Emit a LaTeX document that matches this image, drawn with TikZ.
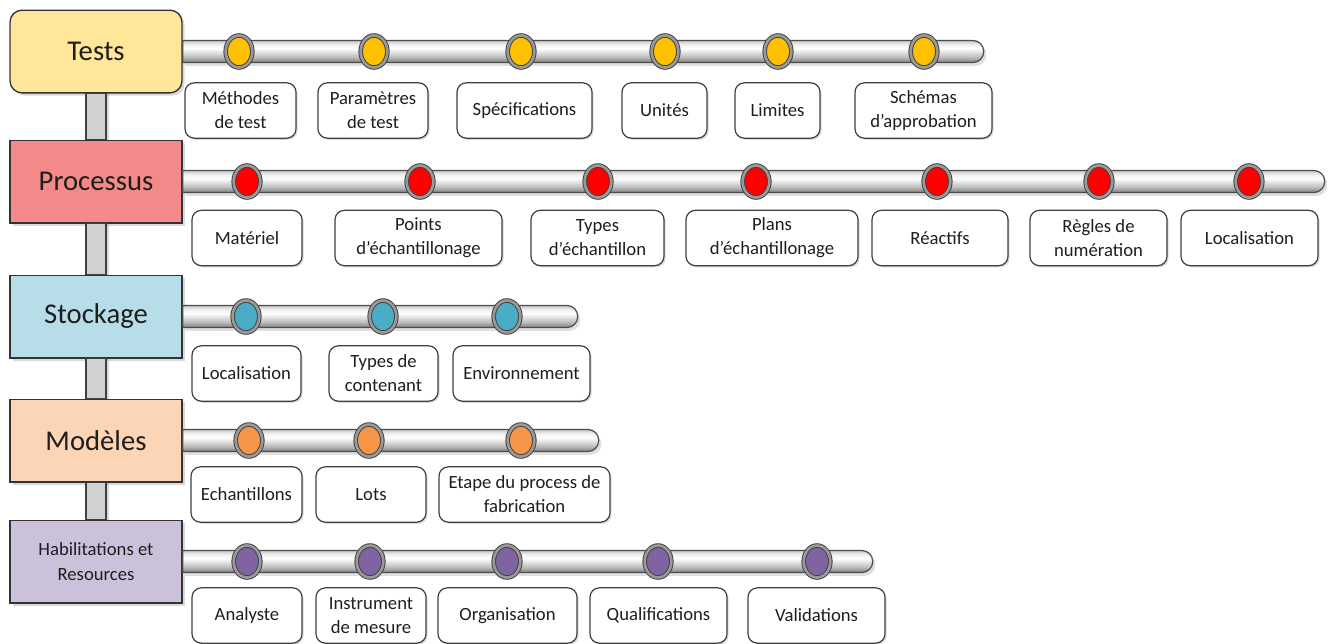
\documentclass[tikz,border=0pt]{standalone}
\usepackage{fontspec}
\setmainfont{Carlito}
\usetikzlibrary{shapes.geometric,shadows,calc}
\definecolor{testsbg}{HTML}{FFE699}
\definecolor{testsdot}{HTML}{FFC000}
\definecolor{procbg}{HTML}{F4898A}
\definecolor{procdot}{HTML}{FF0000}
\definecolor{stockbg}{HTML}{B7DEE8}
\definecolor{stockdot}{HTML}{4BACC6}
\definecolor{modbg}{HTML}{FBD5B5}
\definecolor{moddot}{HTML}{F79646}
\definecolor{habbg}{HTML}{CCC1DA}
\definecolor{habdot}{HTML}{8064A2}
\definecolor{ink}{HTML}{1E1E1E}
\pgfdeclareverticalshading{tubeshade}{100bp}{color(0bp)=(black!50); color(25bp)=(black!50); color(38bp)=(black!25); color(57bp)=(white); color(66bp)=(black!6); color(75bp)=(black!22); color(100bp)=(black!22)}
\begin{document}
\begin{tikzpicture}[x=.75pt,y=-.75pt,
  cat/.style={draw=black!80,line width=1pt,minimum width=129pt,minimum height=62pt,inner sep=0pt,align=center,text=ink,font=\fontsize{21.5}{26}\selectfont,drop shadow={shadow xshift=2pt,shadow yshift=-2pt,opacity=.3}},
  lab/.style={draw=black!75,line width=.9pt,fill=white,rounded corners=7pt,minimum height=41.5pt,inner sep=0pt,align=center,text=ink,font=\fontsize{14}{18}\selectfont,drop shadow={shadow xshift=1.2pt,shadow yshift=-1.2pt,opacity=.3}},
  tube/.style={draw=black!70,line width=.9pt,shading=tubeshade,drop shadow={shadow xshift=2pt,shadow yshift=-2.5pt,opacity=.25}},
  vbar/.style={draw=black!75,line width=.9pt,fill=black!18,drop shadow={shadow xshift=2.5pt,shadow yshift=0pt,opacity=.3}},
  dot/.style={ellipse,draw=black!75,line width=.7pt,double=black!40,double distance=2pt,fill=#1,minimum width=20pt,minimum height=24pt,inner sep=0pt}]
\useasboundingbox (0,0) rectangle (1335,643);

\node[cat,fill=testsbg,rounded corners=9pt] (tests) at (96,51.5) {Tests};
\node[cat,fill=procbg] (proc) at (96,181.5) {Processus};
\node[cat,fill=stockbg] (stock) at (96,316.5) {Stockage};
\node[cat,fill=modbg] (mod) at (96,440.5) {Modèles};
\node[cat,fill=habbg,font=\fontsize{14}{18.75}\selectfont] (hab) at (96,561.5) {Habilitations et\\Resources};

\foreach \a/\b in {tests/proc,proc/stock,stock/mod,mod/hab}
  \draw[vbar] ($(\a.south)+(-10,0)$) rectangle ($(\b.north)+(10,0)$);

\foreach \n/\e in {tests/983,proc/1324,stock/577,mod/598,hab/872}
  \shade[tube] ($(\n.east)+(0,-11)$) [rounded corners=8pt] -- ($(\n.east)+(\e-182,-11)$) -- ($(\n.east)+(\e-182,11)$) [sharp corners] -- ($(\n.east)+(0,11)$) -- cycle;

\foreach \x [count=\i] in {239,374,521,665,778,924}
  \node[dot=testsdot] (tdot\i) at (\x,51.5) {};
\foreach \a/\b/\t [count=\i] in {185/296/{Méthodes\\de test},318/428/{Paramètres\\de test},457/592/{Spécifications},622/707/{Unités},735/820/{Limites},855/992/{Schémas\\d’approbation}}
  \node[lab,minimum width={(\b-\a)*.75pt}] (tlab\i) at ({(\a+\b)/2},110.5) {\t};

\foreach \x [count=\i] in {247,420,598,756,937,1099,1249}
  \node[dot=procdot] (pdot\i) at (\x,181.5) {};
\foreach \a/\b/\t [count=\i] in {192/302/{Matériel},335/502/{Points\\d’échantillonage},531/664/{Types\\d’échantillon},686/858/{Plans\\d’échantillonage},872/1008/{Réactifs},1030/1167/{Règles de\\numération},1181/1318/{Localisation}}
  \node[lab,minimum width={(\b-\a)*.75pt}] (plab\i) at ({(\a+\b)/2},238) {\t};

\foreach \x [count=\i] in {246,383,507}
  \node[dot=stockdot] (sdot\i) at (\x,316.5) {};
\foreach \a/\b/\t [count=\i] in {192/301/{Localisation},329/438/{Types de\\contenant},453/590/{Environnement}}
  \node[lab,minimum width={(\b-\a)*.75pt}] (slab\i) at ({(\a+\b)/2},373.5) {\t};

\foreach \x [count=\i] in {249,369,521}
  \node[dot=moddot] (mdot\i) at (\x,440.5) {};
\foreach \a/\b/\t [count=\i] in {191/302/{Echantillons},316/426/{Lots},439/610/{Etape du process de\\fabrication}}
  \node[lab,minimum width={(\b-\a)*.75pt}] (mlab\i) at ({(\a+\b)/2},494.5) {\t};

\foreach \x [count=\i] in {247,370,507,658,817}
  \node[dot=habdot] (hdot\i) at (\x,561.5) {};
\foreach \a/\b/\t [count=\i] in {192/302/{Analyste},316/426/{Instrument\\de mesure},438/577/{Organisation},590/727/{Qualifications},748/885/{Validations}}
  \node[lab,minimum width={(\b-\a)*.75pt}] (hlab\i) at ({(\a+\b)/2},615.5) {\t};
\end{tikzpicture}
\end{document}
